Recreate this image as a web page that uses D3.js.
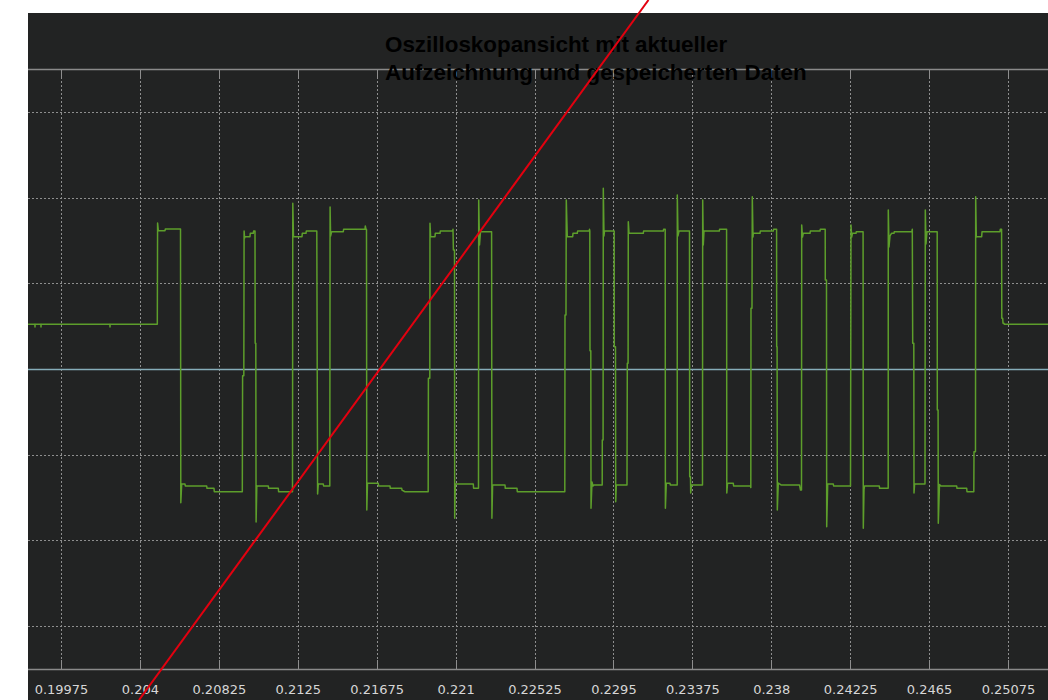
<!DOCTYPE html>
<html><head><meta charset="utf-8">
<script src="https://cdn.jsdelivr.net/npm/d3@7"></script>
<style>html,body{margin:0;padding:0;background:#fff;}svg{display:block}</style>
</head><body><svg id="chart" width="1048" height="700"></svg>
<script>
const titleLines = ["Oszilloskopansicht mit aktueller", "Aufzeichnung und gespeicherten Daten"];
const xTicks = [0.19975, 0.204, 0.20825, 0.2125, 0.21675, 0.221, 0.22525, 0.2295, 0.23375, 0.238, 0.24225, 0.2465, 0.25075];
const xTickLabels = ["0.19975", "0.204", "0.20825", "0.2125", "0.21675", "0.221", "0.22525", "0.2295", "0.23375", "0.238", "0.24225", "0.2465", "0.25075"];
const yTicks = [-3, -2, -1, 0, 1, 2, 3];
const yDomain = [-3.5, 3.5];

// recorded waveform (time [s], value)
const signalT = [0.197973,0.198345,0.198350,0.198355,0.198668,0.198673,0.198678,0.202384,0.202389,0.202394,
0.204936,0.204952,0.204990,0.205351,0.205367,0.206186,0.206202,0.206250,0.206428,0.206444,0.207597,0.207613,0.207990,0.208006,0.209514,
0.209530,0.209595,0.209611,0.209638,0.209659,0.209928,0.209945,0.210106,0.210122,0.210198,0.210208,0.210241,0.210257,0.210295,0.210914,
0.210930,0.211453,0.211469,0.212217,0.212233,0.212271,0.212729,0.212745,0.212944,0.212960,0.213526,0.213569,0.213607,0.213876,0.213892,
0.214226,0.214242,0.214269,0.214328,0.214953,0.214969,0.216122,0.216138,0.216176,0.216202,0.216219,0.216256,0.216838,0.216854,0.217468,
0.217484,0.218098,0.218114,0.218276,0.219525,0.219536,0.219611,0.219622,0.219654,0.219891,0.219908,0.220161,0.220177,0.220845,0.220861,
0.220882,0.220942,0.220952,0.220985,0.221954,0.221970,0.222234,0.222245,0.222288,0.222342,0.222940,0.222956,0.222993,0.223661,0.223677,
0.224307,0.224324,0.226882,0.226892,0.226946,0.226962,0.227016,0.227307,0.227323,0.227555,0.227571,0.228201,0.228212,0.228228,0.228239,
0.228282,0.228293,0.228347,0.228400,0.228454,0.228896,0.228901,0.228944,0.228955,0.228993,0.229020,0.229542,0.229547,0.229612,0.229623,
0.229655,0.230231,0.230248,0.230291,0.230301,0.230339,0.231109,0.231125,0.232186,0.232202,0.232289,0.232299,0.232348,0.232547,0.232563,
0.232935,0.232940,0.232978,0.233032,0.233597,0.233608,0.233651,0.233662,0.233705,0.234297,0.234308,0.234340,0.234378,0.235202,0.235218,
0.235595,0.235606,0.235644,0.235671,0.235956,0.235972,0.236882,0.236899,0.236909,0.236963,0.236979,0.237017,0.237033,0.237394,0.237410,
0.238110,0.238126,0.238288,0.238293,0.238315,0.238326,0.238380,0.238525,0.239521,0.239575,0.239629,0.239640,0.239683,0.239726,0.240087,
0.240103,0.240625,0.240641,0.240905,0.240911,0.240975,0.240986,0.241040,0.241342,0.241358,0.242268,0.242295,0.242332,0.242376,0.242564,
0.242580,0.242946,0.242957,0.242995,0.243022,0.243819,0.243835,0.244298,0.244303,0.244341,0.244395,0.244476,0.244610,0.244627,0.245569,
0.245596,0.245618,0.245677,0.245688,0.245720,0.246280,0.246296,0.246334,0.246388,0.246937,0.246942,0.246985,0.246996,0.247061,0.247142,
0.247987,0.248003,0.248526,0.248542,0.248908,0.248919,0.248999,0.249010,0.249043,0.249080,0.249333,0.249350,0.250319,0.250335,0.250405,
0.250416,0.250464,0.250481,0.250534,0.250551,0.253550];
const signalV = [0.522,0.522,0.490,0.522,0.522,0.490,0.522,0.522,0.490,0.522,
0.522,1.703,1.614,1.614,1.633,1.633,-1.560,-1.342,-1.342,-1.365,-1.365,-1.392,-1.392,-1.432,-1.432,
-0.078,-0.078,1.610,1.528,1.544,1.544,1.583,1.583,1.610,1.610,0.300,0.300,-1.785,-1.365,-1.365,
-1.392,-1.392,-1.432,-1.432,1.933,1.544,1.544,1.583,1.583,1.610,1.610,-1.458,-1.342,-1.342,-1.365,
-1.365,1.890,1.552,1.602,1.602,1.630,1.630,1.668,1.630,1.630,-1.645,-1.334,-1.334,-1.365,-1.365,
-1.392,-1.392,-1.412,-1.432,-1.432,-0.109,-0.109,1.700,1.544,1.544,1.583,1.583,1.610,1.610,1.630,
1.388,1.388,-1.742,-1.342,-1.342,-1.392,-1.392,1.972,1.447,1.602,1.602,-1.742,-1.353,-1.353,-1.392,
-1.392,-1.432,-1.432,0.630,0.630,1.972,1.544,1.544,1.583,1.583,1.610,1.610,1.630,1.610,0.214,
0.214,-1.625,-1.318,-1.365,-1.353,-1.353,-0.828,-0.828,2.108,1.552,1.610,1.610,0.260,0.260,-1.548,
-1.353,-1.353,0.067,0.067,1.719,1.583,1.583,1.610,1.610,1.630,1.630,-1.625,-1.334,-1.334,-1.353,
-1.353,2.030,1.552,1.610,1.610,-1.257,-1.257,-1.447,-1.353,-1.353,1.972,1.447,1.610,1.610,1.630,
1.630,-1.447,-1.342,-1.334,-1.334,-1.365,-1.365,-1.383,0.708,0.708,2.010,1.540,1.583,1.583,1.610,
1.610,1.630,1.630,0.260,0.260,-1.645,-1.330,-1.353,-1.353,-1.412,-1.412,1.680,1.540,1.583,1.583,
1.610,1.610,1.630,1.630,1.038,1.038,-1.840,-1.342,-1.342,-1.365,-1.365,1.680,1.540,1.583,1.583,
1.602,1.602,-1.859,-1.412,-1.365,-1.365,-1.392,-1.392,1.855,1.423,1.552,1.583,1.583,1.602,1.602,
1.630,0.300,0.300,-1.447,-1.342,-1.342,1.855,1.458,1.602,1.602,-0.478,-0.478,-1.800,-1.348,-1.365,
-1.365,-1.392,-1.392,-1.432,-1.432,-0.965,-0.965,2.010,1.540,1.544,1.544,1.602,1.602,1.630,1.630,
0.592,0.592,0.533,0.533,0.522,0.522];

// stored-data marker line (two end points)
const markerT = [0.203951, 0.231389];
const markerV = [-3.862, 4.305];

const W = 1048, H = 700;
const panel = {left: 28, top: 13};
const plot = {top: 69, bottom: 669, right: W};

const svg = d3.select("#chart");
const x = d3.scaleLinear().domain([xTicks[0], xTicks[xTicks.length - 1]]).range([61, 1008]);
const y = d3.scaleLinear().domain(yDomain).range([plot.bottom, plot.top]);

svg.append("rect").attr("x", panel.left).attr("y", panel.top)
  .attr("width", W - panel.left).attr("height", H - panel.top).attr("fill", "#222323");

svg.append("defs").append("clipPath").attr("id", "clip")
  .append("rect").attr("x", panel.left).attr("y", plot.top)
  .attr("width", W - panel.left).attr("height", plot.bottom - plot.top);

const g = svg.append("g");

// horizontal grid
g.selectAll(".hgrid").data(yTicks.filter(d => d !== 0)).join("line")
  .attr("x1", panel.left).attr("x2", W)
  .attr("y1", d => Math.round(y(d)) + 0.5).attr("y2", d => Math.round(y(d)) + 0.5)
  .attr("stroke", "#8e8e8e").attr("stroke-width", 1).attr("stroke-dasharray", "2,2");

// vertical grid
g.selectAll(".vgrid").data(xTicks).join("line")
  .attr("x1", d => Math.round(x(d)) + 0.5).attr("x2", d => Math.round(x(d)) + 0.5)
  .attr("y1", plot.top).attr("y2", plot.bottom)
  .attr("stroke", "#8e8e8e").attr("stroke-width", 1).attr("stroke-dasharray", "2,2");

// inner ticks top & bottom
g.selectAll(".tickb").data(xTicks).join("line")
  .attr("x1", d => Math.round(x(d)) + 0.5).attr("x2", d => Math.round(x(d)) + 0.5)
  .attr("y1", plot.bottom - 9).attr("y2", plot.bottom)
  .attr("stroke", "#8e8e8e").attr("stroke-width", 1);
g.selectAll(".tickt").data(xTicks).join("line")
  .attr("x1", d => Math.round(x(d)) + 0.5).attr("x2", d => Math.round(x(d)) + 0.5)
  .attr("y1", plot.top).attr("y2", plot.top + 9)
  .attr("stroke", "#8e8e8e").attr("stroke-width", 1);

// frame lines
[plot.top, plot.bottom].forEach(py => {
  g.append("line").attr("x1", panel.left).attr("x2", W).attr("y1", py + 0.5).attr("y2", py + 0.5)
    .attr("stroke", "#8a8a8a").attr("stroke-width", 1.5);
});

// zero line
g.append("line").attr("x1", panel.left).attr("x2", W)
  .attr("y1", Math.round(y(0)) + 0.5).attr("y2", Math.round(y(0)) + 0.5)
  .attr("stroke", "#86adb9").attr("stroke-width", 1.5);

// x axis labels
const axis = d3.axisBottom(x).tickValues(xTicks).tickSize(0).tickPadding(0)
  .tickFormat((d, i) => xTickLabels[i]);
const ax = svg.append("g").attr("transform", `translate(0,${plot.bottom})`).call(axis);
ax.select(".domain").remove();
ax.selectAll("text").attr("dy", null).attr("y", 25)
  .attr("fill", "#d6d6d6").style("font-family", "'DejaVu Sans', sans-serif").style("font-size", "13px");

// signal
const pts = signalT.map((t, i) => [t, signalV[i]]);
svg.append("path").datum(pts).attr("clip-path", "url(#clip)")
  .attr("d", d3.line().x(d => x(d[0])).y(d => y(d[1])))
  .attr("fill", "none").attr("stroke", "#5d9e2b").attr("stroke-width", 1.5)
  .attr("stroke-linejoin", "round");

// title
svg.append("g").selectAll("text").data(titleLines).join("text")
  .attr("x", 385).attr("y", (d, i) => 52 + i * 28)
  .attr("fill", "#000").style("font-family", "'Liberation Sans', Arial, sans-serif")
  .style("font-weight", "bold").style("font-size", "22.4px").text(d => d);

// marker line
const mk = markerT.map((t, i) => [t, markerV[i]]);
svg.append("path").datum(mk)
  .attr("d", d3.line().x(d => x(d[0])).y(d => y(d[1])))
  .attr("fill", "none").attr("stroke", "#e3000f").attr("stroke-width", 2);
</script>
</body></html>
